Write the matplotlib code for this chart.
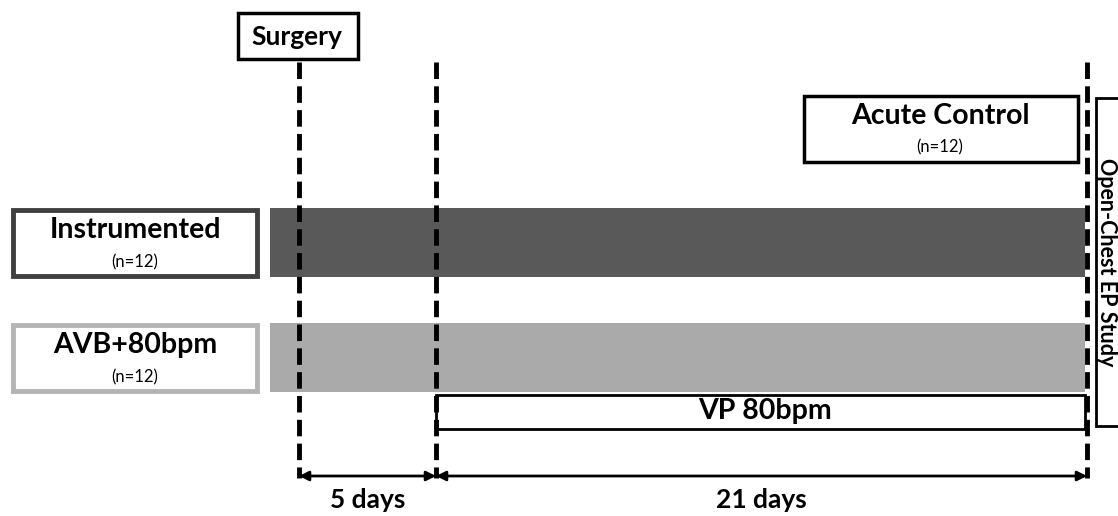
import matplotlib.pyplot as plt
from matplotlib.patches import Rectangle

# timeline content
events = ["Surgery", "Start pacing", "Open-Chest EP Study"]
event_x = [299, 436, 1087]
phase_days = [5, 21]
phase_labels = ["5 days", "21 days"]
groups = ["Instrumented", "AVB+80bpm"]
group_n = [12, 12]
group_fill = ["#595959", "#aaaaaa"]
group_edge = ["#404040", "#b4b4b4"]
group_y = [208, 323]

plt.rcParams['font.family'] = ['Lato', 'DejaVu Sans']
big = 20.5

fig = plt.figure(figsize=(11.18, 5.16), dpi=100)
ax = fig.add_axes([0, 0, 1, 1])
ax.set_xlim(0, 1118)
ax.set_ylim(516, 0)
ax.axis("off")

# group bars and labels
for name, n, fc, ec, y in zip(groups, group_n, group_fill, group_edge, group_y):
    ax.add_patch(Rectangle((270, y), 815, 69, facecolor=fc, edgecolor="none", zorder=1))
    ax.add_patch(Rectangle((13, y + 2), 244, 66, facecolor="white", edgecolor=ec, lw=3.5, zorder=2))
    ax.text(135, y + 22, name, ha="center", va="center", fontsize=big, fontweight="bold")
    ax.text(135, y + 54, "(n=%d)" % n, ha="center", va="center", fontsize=12)

# VP pacing box
ax.add_patch(Rectangle((436, 395), 649, 34, facecolor="white", edgecolor="black", lw=2, zorder=2))
ax.text(765, 411, "VP 80bpm", ha="center", va="center", fontsize=big, fontweight="bold", zorder=3)

# acute control
ax.add_patch(Rectangle((804, 96), 274, 66, facecolor="white", edgecolor="black", lw=2.5, zorder=2))
ax.text(940, 116, "Acute Control", ha="center", va="center", fontsize=big, fontweight="bold", zorder=3)
ax.text(940, 147, "(n=%d)" % 12, ha="center", va="center", fontsize=12, zorder=3)

# surgery box
ax.add_patch(Rectangle((238, 13), 120, 46, facecolor="white", edgecolor="black", lw=2.5, zorder=2))
ax.text(297, 37, events[0], ha="center", va="center", fontsize=19, fontweight="bold", zorder=3)

# open-chest EP study box
ax.add_patch(Rectangle((1096, 98), 40, 328, facecolor="white", edgecolor="black", lw=2, zorder=2))
ax.text(1107, 262, events[2], ha="center", va="center", fontsize=15.5, fontweight="bold",
        rotation=-90, zorder=3)

# dashed event lines
for x in event_x:
    ax.plot([x, x], [62, 478], color="black", lw=3.5, ls=(0, (3.4, 1.5)), zorder=4)

# duration arrows
for i, lab in enumerate(phase_labels):
    x0, x1 = event_x[i], event_x[i + 1]
    ax.annotate("", xy=(x0, 476), xytext=(x1, 476),
                arrowprops=dict(arrowstyle="<|-|>", color="black", lw=2,
                                shrinkA=0, shrinkB=0, mutation_scale=14), zorder=5)
    ax.text((x0 + x1) / 2, 500, lab, ha="center", va="center", fontsize=19, fontweight="bold")

fig.savefig("out.png", dpi=100)
